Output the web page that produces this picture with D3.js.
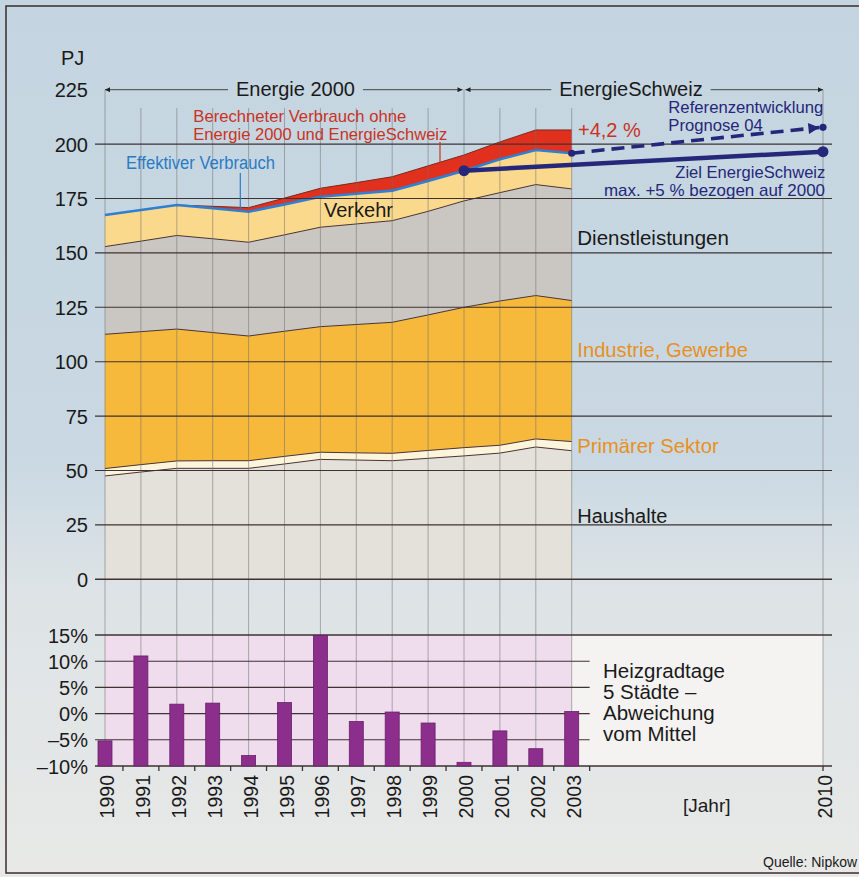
<!DOCTYPE html>
<html>
<head>
<meta charset="utf-8">
<script src="https://cdn.jsdelivr.net/npm/d3@7"></script>
<style>
  body { margin: 0; background: #fff; }
  svg text { font-family: "Liberation Sans", Arial, Helvetica, sans-serif; }
</style>
</head>
<body>
<svg id="chart"></svg>
<script>
// Energieverbrauch nach Sektoren, PJ
const years = [1990, 1991, 1992, 1993, 1994, 1995, 1996, 1997, 1998, 1999, 2000, 2001, 2002, 2003];
const haushalte        = [47.5, 49.3, 51.0, 51.0, 51.0, 53.0, 55.1, 54.8, 54.5, 55.6, 56.7, 58.0, 60.8, 59.1];
const primaerSektor    = [3.4, 3.4, 3.4, 3.5, 3.5, 3.5, 3.3, 3.3, 3.4, 3.6, 3.8, 3.6, 3.7, 4.2];
const industrie        = [61.7, 61.1, 60.6, 58.9, 57.3, 57.5, 57.7, 59.0, 60.2, 62.3, 64.5, 66.3, 65.9, 64.8];
const dienstleistungen = [40.3, 41.6, 43.0, 43.1, 43.1, 44.3, 45.7, 46.2, 46.7, 47.6, 48.9, 49.8, 51.0, 51.3];
const verkehr          = [14.5, 14.3, 14.0, 14.0, 14.0, 14.0, 14.0, 13.9, 13.8, 14.0, 13.9, 15.3, 15.9, 16.4];
// Mehrverbrauch ohne Energie 2000 und EnergieSchweiz
const ohneProgramme    = [0, 0, 0, 0.9, 1.9, 2.9, 3.9, 5.1, 6.4, 6.9, 7.2, 8.0, 9.2, 10.7];

// Heizgradtage, Abweichung vom Mittel in %
const heizgradtage = [-5.2, 11.0, 1.8, 2.0, -8.0, 2.1, 14.9, -1.5, 0.3, -1.8, -9.3, -3.3, -6.7, 0.4];

// Ziel EnergieSchweiz und Referenzentwicklung
const zielYears = [2000, 2010];
const zielValues = [187.8, 196.5];
const prognoseYears = [2003, 2010];
const prognoseValues = [195.8, 207.7];

const pjTicks = [0, 25, 50, 75, 100, 125, 150, 175, 200, 225];
const pctTicks = [-10, -5, 0, 5, 10, 15];
const pctLabels = ["–10%", "–5%", "0%", "5%", "10%", "15%"];

const width = 859, height = 877;

const svg = d3.select("#chart")
    .attr("width", width)
    .attr("height", height);

const x = d3.scaleLinear().domain([1990, 2010]).range([105, 823]);
const y = d3.scaleLinear().domain([0, 225]).range([579.3, 89.7]);
const y2 = d3.scaleLinear().domain([-10, 15]).range([766, 635]);

const navy = "#25277a";

// background
const defs = svg.append("defs");
const grad = defs.append("linearGradient")
    .attr("id", "bg")
    .attr("x1", 0).attr("y1", 0).attr("x2", 0).attr("y2", 1);
grad.append("stop").attr("offset", "0").attr("stop-color", "#c4d5e1");
grad.append("stop").attr("offset", "0.52").attr("stop-color", "#c9d8e2");
grad.append("stop").attr("offset", "0.67").attr("stop-color", "#dde3e6");
grad.append("stop").attr("offset", "1").attr("stop-color", "#e8e9e7");

defs.append("marker")
    .attr("id", "arrowSmall")
    .attr("viewBox", "0 0 10 10")
    .attr("refX", 10).attr("refY", 5)
    .attr("markerWidth", 7).attr("markerHeight", 5)
    .attr("markerUnits", "userSpaceOnUse")
    .attr("orient", "auto-start-reverse")
    .append("path")
    .attr("d", "M0,0L10,5L0,10Z")
    .attr("fill", "#222");

defs.append("marker")
    .attr("id", "arrowNavy")
    .attr("viewBox", "0 0 10 10")
    .attr("refX", 10).attr("refY", 5)
    .attr("markerWidth", 14).attr("markerHeight", 11)
    .attr("markerUnits", "userSpaceOnUse")
    .attr("orient", "auto")
    .append("path")
    .attr("d", "M0,0L10,5L0,10Z")
    .attr("fill", navy);

svg.append("rect")
    .attr("x", 0).attr("y", 0)
    .attr("width", width).attr("height", height)
    .attr("fill", "url(#bg)");

svg.append("rect")
    .attr("x", 6).attr("y", 6)
    .attr("width", width + 20).attr("height", 867)
    .attr("fill", "none")
    .attr("stroke", "#3a2c2c")
    .attr("stroke-width", 1.5);

// lower chart panels
svg.append("rect")
    .attr("x", x(1990)).attr("y", y2(15))
    .attr("width", x(2003) - x(1990)).attr("height", y2(-10) - y2(15))
    .attr("fill", "#efdcec");
svg.append("rect")
    .attr("x", x(2003)).attr("y", y2(15))
    .attr("width", x(2010) - x(2003)).attr("height", y2(-10) - y2(15))
    .attr("fill", "#f4f3f2");

// stacked areas
const keys = ["haushalte", "primaer", "industrie", "dienst", "verkehr", "ohne"];
const table = years.map((yr, i) => ({
    year: yr,
    haushalte: haushalte[i],
    primaer: primaerSektor[i],
    industrie: industrie[i],
    dienst: dienstleistungen[i],
    verkehr: verkehr[i],
    ohne: ohneProgramme[i]
}));
const fills = {
    haushalte: "#e4e0da",
    primaer: "#fdf4dc",
    industrie: "#f6b93c",
    dienst: "#cac7c3",
    verkehr: "#fad98c",
    ohne: "#e2301f"
};

const series = d3.stack().keys(keys)(table);

const area = d3.area()
    .x(d => x(d.data.year))
    .y0(d => y(d[0]))
    .y1(d => y(d[1]));

const topLine = d3.line()
    .x(d => x(d.data.year))
    .y(d => y(d[1]));

svg.append("g")
    .selectAll("path")
    .data(series)
    .join("path")
    .attr("d", area)
    .attr("fill", d => fills[d.key]);

svg.append("g")
    .selectAll("path")
    .data(series.filter(s => s.key !== "verkehr"))
    .join("path")
    .attr("d", topLine)
    .attr("fill", "none")
    .attr("stroke", d => d.key === "ohne" ? "#7a2a1a" : "#4a3434")
    .attr("stroke-width", 1);

// effektiver Verbrauch
svg.append("path")
    .datum(series[4])
    .attr("d", topLine)
    .attr("fill", "none")
    .attr("stroke", "#2f7fd2")
    .attr("stroke-width", 2.6);

// vertical grid
const vYears = years.concat([2010]);
svg.append("g")
    .selectAll("line")
    .data(vYears)
    .join("line")
    .attr("x1", d => x(d)).attr("x2", d => x(d))
    .attr("y1", d => (d === 1990 || d === 2000 || d === 2010) ? y(225) : y(216.5))
    .attr("y2", y2(-10))
    .attr("stroke", "#6e6e6e")
    .attr("stroke-opacity", 0.75)
    .attr("stroke-width", 0.7);

// horizontal grid top
svg.append("g")
    .selectAll("line")
    .data(pjTicks.filter(v => v < 225))
    .join("line")
    .attr("x1", 95).attr("x2", 832)
    .attr("y1", d => y(d)).attr("y2", d => y(d))
    .attr("stroke", "#3e3232")
    .attr("stroke-width", d => d === 0 ? 1.6 : 1.1);

svg.append("g")
    .selectAll("text")
    .data(pjTicks)
    .join("text")
    .attr("x", 88)
    .attr("y", d => y(d) + 7.5)
    .attr("text-anchor", "end")
    .attr("font-size", 20)
    .attr("fill", "#1a1a1a")
    .text(d => d);

svg.append("text")
    .attr("x", 61).attr("y", 65)
    .attr("font-size", 20)
    .attr("fill", "#1a1a1a")
    .text("PJ");

// period arrows
function periodArrow(x0, x1, label, cx) {
    const t = svg.append("text")
        .attr("x", cx).attr("y", y(225) + 6.5)
        .attr("text-anchor", "middle")
        .attr("font-size", 20)
        .attr("fill", "#1a1a1a")
        .text(label);
    const w = t.node().getComputedTextLength();
    svg.append("line")
        .attr("x1", cx - w / 2 - 8).attr("x2", x0)
        .attr("y1", y(225)).attr("y2", y(225))
        .attr("stroke", "#333").attr("stroke-width", 0.9)
        .attr("marker-end", "url(#arrowSmall)");
    svg.append("line")
        .attr("x1", cx + w / 2 + 8).attr("x2", x1)
        .attr("y1", y(225)).attr("y2", y(225))
        .attr("stroke", "#333").attr("stroke-width", 0.9)
        .attr("marker-end", "url(#arrowSmall)");
}
periodArrow(x(1990), x(2000) - 1.5, "Energie 2000", 295.5);
periodArrow(x(2000) + 1.5, x(2010), "EnergieSchweiz", 631);

// Referenzentwicklung (dashed)
const lineGen = d3.line().x(d => x(d[0])).y(d => y(d[1]));
const progPts = prognoseYears.map((yr, i) => [yr, prognoseValues[i]]);
svg.append("path")
    .datum([progPts[0], [progPts[1][0] - 0.1, progPts[1][1] - 0.05]])
    .attr("d", lineGen)
    .attr("fill", "none")
    .attr("stroke", navy)
    .attr("stroke-width", 3.6)
    .attr("stroke-dasharray", "13,7")
    .attr("marker-end", "url(#arrowNavy)");
svg.append("g")
    .selectAll("circle")
    .data(progPts)
    .join("circle")
    .attr("cx", d => x(d[0])).attr("cy", d => y(d[1]))
    .attr("r", 3.6)
    .attr("fill", navy);

// Ziel EnergieSchweiz (solid)
const zielPts = zielYears.map((yr, i) => [yr, zielValues[i]]);
svg.append("path")
    .datum(zielPts)
    .attr("d", lineGen)
    .attr("fill", "none")
    .attr("stroke", navy)
    .attr("stroke-width", 4.5);
svg.append("g")
    .selectAll("circle")
    .data(zielPts)
    .join("circle")
    .attr("cx", d => x(d[0])).attr("cy", d => y(d[1]))
    .attr("r", 5.5)
    .attr("fill", navy);

// annotation texts
function label(txt, px, py, opts) {
    const t = svg.append("text")
        .attr("x", px).attr("y", py)
        .attr("font-size", opts.size || 20)
        .attr("fill", opts.color || "#1a1a1a")
        .text(txt);
    if (opts.len) t.attr("textLength", opts.len).attr("lengthAdjust", "spacingAndGlyphs");
    return t;
}
const red = "#c9331f", blue = "#2a7bc4", orange = "#e8901f";

label("Berechneter Verbrauch ohne", 193.3, 121.5, { size: 17, color: red, len: 213 });
label("Energie 2000 und EnergieSchweiz", 193.3, 139.5, { size: 17, color: red, len: 254 });
svg.append("line")
    .attr("x1", 440).attr("x2", 440)
    .attr("y1", 142).attr("y2", 163)
    .attr("stroke", red).attr("stroke-width", 1.2);

label("Effektiver Verbrauch", 126, 169, { size: 18, color: blue, len: 149 });
svg.append("line")
    .attr("x1", 240.3).attr("x2", 240.3)
    .attr("y1", 173).attr("y2", 210)
    .attr("stroke", blue).attr("stroke-width", 1.2);

label("+4,2 %", 578, 136.7, { size: 20, color: red });
label("Referenzentwicklung", 668.3, 113.3, { size: 17, color: navy, len: 155 });
label("Prognose 04", 668.3, 130.7, { size: 17, color: navy, len: 94.4 });
label("Ziel EnergieSchweiz", 675.3, 178.3, { size: 17, color: navy, len: 150 });
label("max. +5 % bezogen auf 2000", 604, 196, { size: 17, color: navy, len: 221 });

label("Verkehr", 324, 216.7, { size: 20 });
label("Dienstleistungen", 577.3, 245, { size: 20.5 });
label("Industrie, Gewerbe", 577.3, 356.7, { size: 20.2, color: orange });
label("Primärer Sektor", 577.3, 452.7, { size: 20.2, color: orange });
label("Haushalte", 577.3, 523, { size: 20 });

// lower chart grid
svg.append("g")
    .selectAll("line")
    .data(pctTicks)
    .join("line")
    .attr("x1", 95)
    .attr("x2", d => (d === 15 || d === -10) ? 832 : x(2003.5))
    .attr("y1", d => y2(d)).attr("y2", d => y2(d))
    .attr("stroke", "#3e3232")
    .attr("stroke-width", d => (d === 15 || d === -10) ? 1.6 : 1.1);

svg.append("g")
    .selectAll("text")
    .data(pctTicks)
    .join("text")
    .attr("x", 88)
    .attr("y", d => y2(d) + 7.5)
    .attr("text-anchor", "end")
    .attr("font-size", 20)
    .attr("fill", "#1a1a1a")
    .text((d, i) => pctLabels[i]);

// bars
svg.append("g")
    .selectAll("rect")
    .data(heizgradtage)
    .join("rect")
    .attr("x", (d, i) => x(years[i]) - 7)
    .attr("width", 14)
    .attr("y", d => y2(d))
    .attr("height", d => y2(-10) - y2(d))
    .attr("fill", "#8c2e8c")
    .attr("stroke", "#6a1e6a")
    .attr("stroke-width", 0.8);

// axis ticks
const tickYears = years.map(yr => yr + 0.5).concat([2010]);
svg.append("g")
    .selectAll("line")
    .data(tickYears)
    .join("line")
    .attr("x1", d => x(d)).attr("x2", d => x(d))
    .attr("y1", y2(-10)).attr("y2", y2(-10) + 5)
    .attr("stroke", "#3e3232")
    .attr("stroke-width", 1.3);

// year labels
svg.append("g")
    .selectAll("text")
    .data(vYears)
    .join("text")
    .attr("transform", d => `translate(${x(d) + 9},775) rotate(-90)`)
    .attr("text-anchor", "end")
    .attr("font-size", 19.5)
    .attr("fill", "#1a1a1a")
    .text(d => d);

label("[Jahr]", 683, 811.5, { size: 19 });

label("Heizgradtage", 603, 678.3, { size: 20.5 });
label("5 Städte –", 603, 699, { size: 20.5 });
label("Abweichung", 603, 720, { size: 20.5 });
label("vom Mittel", 603, 740.7, { size: 20.5 });

label("Quelle: Nipkow", 763, 866.5, { size: 14 });
</script>
</body>
</html>
